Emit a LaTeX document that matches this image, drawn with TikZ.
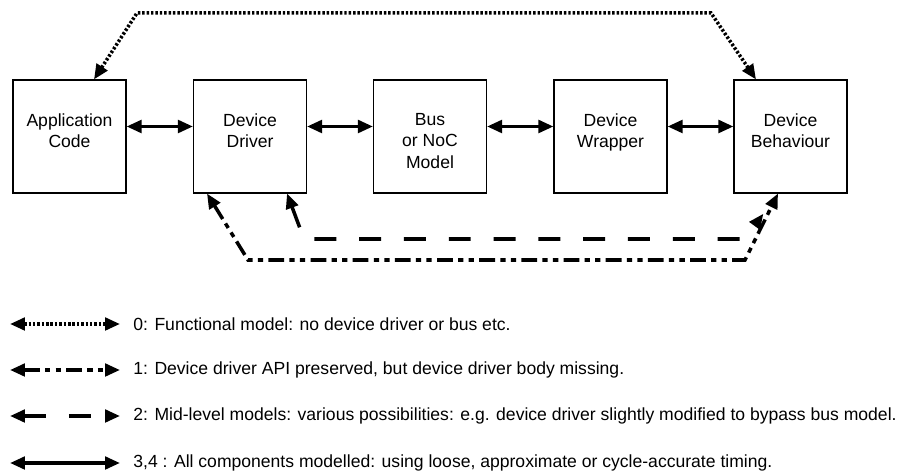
\documentclass[tikz,border=0pt]{standalone}
\usepackage{fontspec}
\setmainfont{Liberation Sans}
\usetikzlibrary{arrows.meta, positioning}

\begin{document}
\begin{tikzpicture}[
        x=0.02cm, y=-0.02cm,
        font=\fontsize{10}{12}\selectfont,
        box/.style={draw, line width=0.6pt, minimum width=2.26cm,
                    minimum height=2.26cm, inner sep=0pt},
        boxtext/.style={align=center, inner sep=0pt},
        arr/.style={{Triangle[length=0.3cm, width=0.25cm]}-{Triangle[length=0.3cm, width=0.25cm]},
                    line width=2pt},
        lvlzero/.style={arr, dash pattern=on 1.4pt off 1.1pt},
        lvlone/.style={arr, dash pattern=on 9pt off 3pt on 3pt off 3pt on 3pt off 3pt},
        lvltwo/.style={arr, dash pattern=on 12.5pt off 13pt},
        legtext/.style={anchor=west, inner sep=0pt},
        node distance=0.68cm
      ]
      \useasboundingbox (0,0) rectangle (912,475);

      % ── Blöcke ──
      \node[box] (app)  at (69.5,136.5) {};
      \node[box] (drv)  at (250,136.5)  {};
      \node[box] (bus)  at (430,136.5)  {};
      \node[box] (wrap) at (610.5,136.5) {};
      \node[box] (beh)  at (790.5,136.5) {};

      \node[boxtext, below=of app.north]  (appt)  {Application\\Code};
      \node[boxtext, below=of drv.north]  (drvt)  {Device\\Driver};
      \node[boxtext, below=of bus.north]  (bust)  {Bus\\or NoC\\Model};
      \node[boxtext, below=of wrap.north] (wrapt) {Device\\Wrapper};
      \node[boxtext, below=of beh.north]  (beht)  {Device\\Behaviour};

      % ── volle Modelle (3,4) ──
      \foreach \a/\b in {app/drv, drv/bus, bus/wrap, wrap/beh}
        \draw[arr] ([yshift=0.2cm]\a.east) -- ([yshift=0.2cm]\b.west);

      % ── Level 0 ──
      \draw[lvlzero] ([xshift=0.49cm]app.north) -- (137,13) -- (711,13)
        -- ([xshift=-0.69cm]beh.north);

      % ── Level 1 ──
      \draw[lvlone] ([xshift=-0.86cm]drv.south) -- (248,260) -- (745,260)
        -- ([xshift=-0.25cm]beh.south);

      % ── Level 2 ──
      \draw[lvltwo, shorten >=0.5cm] ([xshift=0.74cm]drv.south) -- (304,239) -- (745,239)
        -- ([xshift=-0.25cm]beh.south);

      % ── Legende ──
      \foreach \i/\y/\s in {0/324/lvlzero, 1/370/lvlone, 2/416/lvltwo, 3/463/arr} {
        \coordinate (leg\i a) at (10,\y);
        \coordinate (leg\i b) at (120,\y);
        \draw[\s] (leg\i a) -- (leg\i b);
      }
      \node[legtext] (legzero)  at (133,324) {0: Functional model: no device driver or bus etc.};
      \node[legtext] (legone)   at (133,370) {1: Device driver API preserved, but device driver body missing.};
      \node[legtext] (legtwo)   at (133,416) {2: Mid-level models: various possibilities: e.g. device driver slightly modified to bypass bus model.};
      \node[legtext] (legthree) at (133,463) {3,4 : All components modelled: using loose, approximate or cycle-accurate timing.};
    \end{tikzpicture}
\end{document}
